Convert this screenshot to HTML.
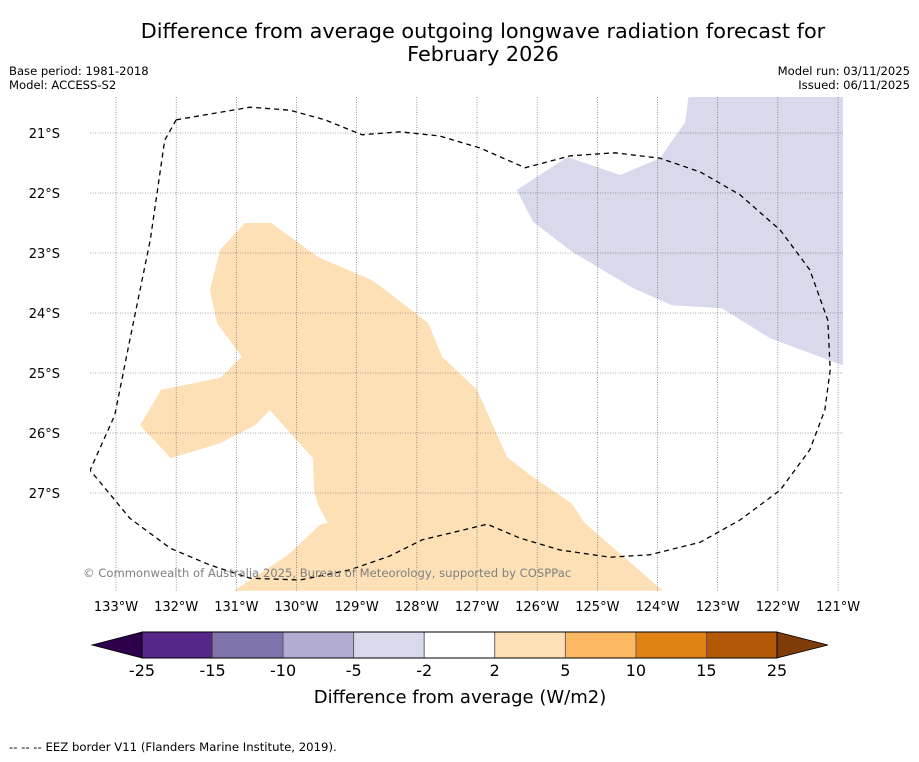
<!DOCTYPE html>
<html><head><meta charset="utf-8"><style>
html,body{margin:0;padding:0;background:#fff;}
body{width:919px;height:758px;overflow:hidden;font-family:"DejaVu Sans","Liberation Sans",sans-serif;}
</style></head><body>
<svg id="chart" width="919" height="758" xmlns="http://www.w3.org/2000/svg" font-family="DejaVu Sans, Liberation Sans, sans-serif">
<text x="483" y="38" text-anchor="middle" font-size="20.8">Difference from average outgoing longwave radiation forecast for</text>
<text x="483" y="61" text-anchor="middle" font-size="20.8">February 2026</text>
<text x="9" y="75" font-size="11.6">Base period: 1981-2018</text>
<text x="9" y="89" font-size="11.6">Model: ACCESS-S2</text>
<text x="910" y="75" font-size="11.6" text-anchor="end">Model run: 03/11/2025</text>
<text x="910" y="89" font-size="11.6" text-anchor="end">Issued: 06/11/2025</text>
<defs><clipPath id="mapclip"><rect x="90" y="97" width="753" height="494"/></clipPath></defs>
<g id="map" clip-path="url(#mapclip)"></g>
<g id="axes"></g>
<text x="83" y="577" font-size="11.6" fill="#808080">© Commonwealth of Australia 2025, Bureau of Meteorology, supported by COSPPac</text>
<g id="cbar"></g>
<text x="460" y="703" text-anchor="middle" font-size="18">Difference from average (W/m2)</text>
<text x="9" y="751" font-size="11.7">--  --  -- EEZ border V11 (Flanders Marine Institute, 2019).</text>
</svg>
<script>
const lonTicks=[-133,-132,-131,-130,-129,-128,-127,-126,-125,-124,-123,-122,-121];
const latTicks=[21,22,23,24,25,26,27];
const positiveLon=[-130.86,-130.42,-129.64,-128.75,-128.48,-127.81,-127.58,-127.0,-126.5,-126.12,-125.42,-125.21,-123.91,-131.04,-130.14,-129.61,-129.48,-129.64,-129.71,-129.73,-130.44,-130.69,-131.27,-132.09,-132.6,-132.25,-131.27,-130.91,-131.32,-131.44,-131.27];
const positiveLat=[22.5,22.5,23.07,23.45,23.65,24.17,24.73,25.28,26.4,26.7,27.18,27.5,28.63,28.63,28.03,27.53,27.5,27.2,26.95,26.42,25.62,25.87,26.17,26.42,25.87,25.28,25.08,24.73,24.17,23.62,22.95];
const negativeLon=[-123.46,-120.5,-120.5,-120.92,-122.13,-122.93,-123.76,-124.42,-125.42,-126.07,-126.34,-125.5,-124.62,-123.96,-123.54];
const negativeLat=[20.2,20.2,24.9,24.87,24.42,23.92,23.87,23.58,22.98,22.48,21.95,21.4,21.7,21.42,20.82];
const eezLon=[-132.0,-130.77,-130.11,-129.53,-128.91,-128.28,-127.62,-126.95,-126.2,-125.45,-124.71,-123.96,-123.29,-122.63,-121.96,-121.47,-121.17,-121.13,-121.22,-121.47,-121.96,-122.63,-123.29,-124.13,-124.79,-125.62,-126.29,-126.83,-127.45,-127.91,-128.45,-129.11,-129.94,-130.77,-131.44,-132.1,-132.77,-133.43,-133.02,-132.77,-132.43,-132.19,-132.0];
const eezLat=[20.78,20.57,20.62,20.78,21.03,20.98,21.05,21.25,21.58,21.38,21.33,21.42,21.65,22.03,22.62,23.28,24.12,24.95,25.62,26.28,26.95,27.45,27.82,28.03,28.07,27.95,27.75,27.52,27.67,27.78,28.05,28.28,28.45,28.42,28.2,27.92,27.42,26.62,25.7,24.45,22.78,21.12,20.78];
const cbarLevels=[-25,-15,-10,-5,-2,2,5,10,15,25];
const cbarColors=['#542788','#8073ac','#b2abd2','#d8daeb','#ffffff','#fee0b6','#fdb863','#e08214','#b35806'];
const NS='http://www.w3.org/2000/svg';
function xLon(l){return 116+(l+133)*60.17;}
function yLat(l){return 133+(l-21)*60;}
function mk(t,a,p){const e=document.createElementNS(NS,t);for(const k in a)e.setAttribute(k,a[k]);p.appendChild(e);return e;}
const map=document.getElementById('map'),axes=document.getElementById('axes'),cb=document.getElementById('cbar');
function poly(lons,lats){return lons.map((l,i)=>xLon(l).toFixed(1)+','+yLat(lats[i]).toFixed(1)).join(' ');}
let p=mk('polygon',{points:poly(negativeLon,negativeLat),fill:'#d8daeb'},map);


p=mk('polygon',{points:poly(positiveLon,positiveLat),fill:'#fee0b6'},map);


lonTicks.forEach(l=>{const x=xLon(l);
 const g=mk('line',{x1:x,x2:x,y1:97,y2:591,stroke:'#555','stroke-width':0.6,'stroke-dasharray':'1,1.5'},map);
 
 
 const t=mk('text',{x:x,y:611,'text-anchor':'middle','font-size':13},axes);t.textContent=(-l)+'°W';
 
 });
latTicks.forEach(l=>{const y=yLat(l);
 const g=mk('line',{x1:90,x2:843,y1:y,y2:y,stroke:'#555','stroke-width':0.6,'stroke-dasharray':'1,1.5'},map);
 
 
 const t=mk('text',{x:60,y:y+5,'text-anchor':'end','font-size':13},axes);t.textContent=l+'°S';
 
 });
p=mk('polyline',{points:poly(eezLon,eezLat),fill:'none',stroke:'#000','stroke-width':1.3,'stroke-dasharray':'5,4'},map);


const cx0=142,cx1=777,cy=632,ch=26,seg=(cx1-cx0)/cbarColors.length;
p=mk('polygon',{points:`${cx0},${cy} ${cx0},${cy+ch} 92,${cy+ch/2}`,fill:'#2d004b',stroke:'#000','stroke-width':0.8},cb);


p=mk('polygon',{points:`${cx1},${cy} ${cx1},${cy+ch} 828,${cy+ch/2}`,fill:'#7f3b08',stroke:'#000','stroke-width':0.8},cb);


cbarColors.forEach((c,i)=>{const r=mk('rect',{x:cx0+i*seg,y:cy,width:seg,height:ch,fill:c,stroke:'#555','stroke-width':0.8},cb);
 
 });
mk('rect',{x:cx0,y:cy,width:cx1-cx0,height:ch,fill:'none',stroke:'#000','stroke-width':1},cb);
cbarLevels.forEach((v,i)=>{const t=mk('text',{x:cx0+i*seg,y:676,'text-anchor':'middle','font-size':16},cb);t.textContent=v;
 
 });
</script>
</body></html>
